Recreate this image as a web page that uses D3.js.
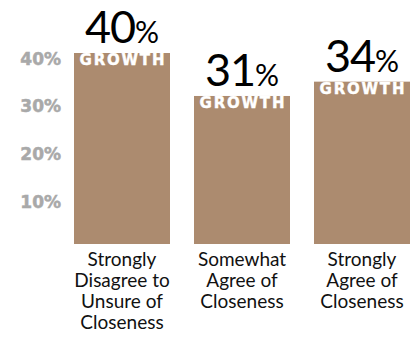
<!DOCTYPE html>
<html>
<head>
<meta charset="utf-8">
<script src="https://cdn.jsdelivr.net/npm/d3@7"></script>
<style>
  html, body { margin: 0; padding: 0; background: #fff; }
  svg { display: block; }
</style>
</head>
<body>
<svg id="chart" width="417" height="337"></svg>
<script>
// Growth by reported closeness
const categories = [
  ["Strongly", "Disagree to", "Unsure of", "Closeness"],
  ["Somewhat", "Agree of", "Closeness"],
  ["Strongly", "Agree of", "Closeness"]
];
const values = [40, 31, 34];
const tickValues = [10, 20, 30, 40];
const tickLabels = ["10%", "20%", "30%", "40%"];
const badge = "GROWTH";

const svg = d3.select("#chart");
const font = "Lato, 'Open Sans', sans-serif";
const heavy = "'DejaVu Sans', sans-serif";
const barColor = "#ac8b6f";

const x = d3.scaleBand()
  .domain(d3.range(values.length))
  .range([74, 410])
  .paddingInner(0.2)
  .paddingOuter(0);

const y = d3.scaleLinear()
  .domain([0, 40])
  .range([244, 53]);

// Left axis: labels only, no line or ticks
const yAxis = d3.axisLeft(y)
  .tickValues(tickValues)
  .tickSize(0)
  .tickPadding(0)
  .tickFormat((d, i) => tickLabels[i]);

const gAxis = svg.append("g")
  .attr("transform", "translate(61,0)")
  .call(yAxis);
gAxis.select(".domain").remove();
gAxis.selectAll("text")
  .attr("dy", "0.95em")
  .attr("y", -5)
  .attr("fill", "#a9a9a9")
  .attr("stroke", "#a9a9a9")
  .attr("stroke-width", 0.5)
  .style("font-family", heavy)
  .style("font-weight", "bold")
  .style("font-size", "17px");

// Bars
svg.append("g").selectAll("rect")
  .data(values)
  .join("rect")
  .attr("x", (d, i) => x(i))
  .attr("y", d => y(d))
  .attr("width", x.bandwidth())
  .attr("height", d => y(0) - y(d))
  .attr("fill", barColor);

// "GROWTH" badge inside the top of each bar
const spacing = 1.8;
svg.append("g").selectAll("text")
  .data(values)
  .join("text")
  .attr("x", (d, i) => x(i) + x.bandwidth() / 2 + spacing / 2)
  .attr("y", d => y(d) + 12)
  .attr("text-anchor", "middle")
  .attr("fill", "#fff")
  .attr("stroke", "#fff")
  .attr("stroke-width", 0.4)
  .style("font-family", heavy)
  .style("font-weight", "bold")
  .style("font-size", "15px")
  .style("letter-spacing", spacing + "px")
  .text(badge);

// Value labels above bars
const vl = svg.append("g").selectAll("text")
  .data(values)
  .join("text")
  .attr("x", (d, i) => x(i) + x.bandwidth() / 2)
  .attr("y", d => y(d) - 10)
  .attr("text-anchor", "middle")
  .attr("fill", "#000")
  .style("font-family", font)
  .style("font-weight", "400");
vl.append("tspan").style("font-size", "45px").style("letter-spacing", "-1px").text(d => d);
vl.append("tspan").style("font-size", "30px").text("%");

// Category labels
const cat = svg.append("g").selectAll("text")
  .data(categories)
  .join("text")
  .attr("text-anchor", "middle")
  .attr("fill", "#111")
  .style("font-family", font)
  .style("font-size", "19px");
cat.each(function(lines, i) {
  d3.select(this).selectAll("tspan")
    .data(lines)
    .join("tspan")
    .attr("x", x(i) + x.bandwidth() / 2)
    .attr("y", (d, j) => 266 + j * 21)
    .text(d => d);
});
</script>
</body>
</html>
